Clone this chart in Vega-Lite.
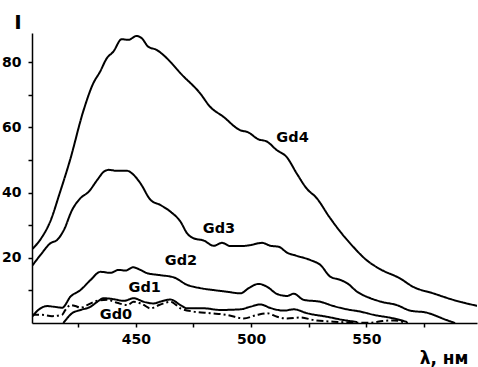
{
  "$schema": "https://vega.github.io/schema/vega-lite/v6.json",
  "width": 445,
  "height": 290,
  "autosize": "none",
  "padding": {"left": 32, "top": 33, "right": 1, "bottom": 44},
  "background": "white",
  "config": {"view": {"stroke": null}, "font": "DejaVu Sans"},
  "datasets": {
    "curves": [
      {"s":"Gd4","x":405.0,"y":22.6},{"s":"Gd4","x":409.0,"y":26.0},{"s":"Gd4","x":413.0,"y":31.3},{"s":"Gd4","x":417.0,"y":39.8},{"s":"Gd4","x":421.5,"y":50.0},{"s":"Gd4","x":427.2,"y":64.9},{"s":"Gd4","x":431.6,"y":73.6},{"s":"Gd4","x":434.5,"y":77.1},{"s":"Gd4","x":437.4,"y":81.2},{"s":"Gd4","x":440.3,"y":83.3},{"s":"Gd4","x":443.9,"y":87.1},{"s":"Gd4","x":446.8,"y":86.9},{"s":"Gd4","x":450.4,"y":88.1},{"s":"Gd4","x":452.6,"y":87.4},{"s":"Gd4","x":455.4,"y":84.8},{"s":"Gd4","x":459.1,"y":83.8},{"s":"Gd4","x":461.9,"y":82.3},{"s":"Gd4","x":465.6,"y":79.7},{"s":"Gd4","x":469.2,"y":76.8},{"s":"Gd4","x":477.9,"y":70.5},{"s":"Gd4","x":482.2,"y":66.4},{"s":"Gd4","x":488.0,"y":63.3},{"s":"Gd4","x":495.2,"y":59.2},{"s":"Gd4","x":498.8,"y":58.5},{"s":"Gd4","x":503.1,"y":56.4},{"s":"Gd4","x":506.8,"y":55.7},{"s":"Gd4","x":511.1,"y":53.1},{"s":"Gd4","x":515.5,"y":50.9},{"s":"Gd4","x":519.8,"y":45.9},{"s":"Gd4","x":524.1,"y":41.3},{"s":"Gd4","x":528.5,"y":38.3},{"s":"Gd4","x":533.9,"y":32.6},{"s":"Gd4","x":539.3,"y":27.5},{"s":"Gd4","x":544.3,"y":23.4},{"s":"Gd4","x":550.1,"y":19.3},{"s":"Gd4","x":556.6,"y":16.3},{"s":"Gd4","x":564.6,"y":13.7},{"s":"Gd4","x":570.3,"y":11.1},{"s":"Gd4","x":579.0,"y":9.1},{"s":"Gd4","x":587.7,"y":7.1},{"s":"Gd4","x":598.4,"y":5.2},
      {"s":"Gd3","x":405.0,"y":17.5},{"s":"Gd3","x":408.7,"y":20.9},{"s":"Gd3","x":413.0,"y":24.5},{"s":"Gd3","x":415.9,"y":25.5},{"s":"Gd3","x":418.8,"y":28.5},{"s":"Gd3","x":422.4,"y":34.7},{"s":"Gd3","x":426.0,"y":38.3},{"s":"Gd3","x":429.6,"y":40.3},{"s":"Gd3","x":433.3,"y":43.9},{"s":"Gd3","x":436.1,"y":46.4},{"s":"Gd3","x":438.3,"y":47.0},{"s":"Gd3","x":441.9,"y":46.7},{"s":"Gd3","x":446.3,"y":46.7},{"s":"Gd3","x":448.4,"y":45.9},{"s":"Gd3","x":452.0,"y":42.9},{"s":"Gd3","x":456.4,"y":37.8},{"s":"Gd3","x":460.7,"y":36.2},{"s":"Gd3","x":465.0,"y":34.2},{"s":"Gd3","x":469.4,"y":31.1},{"s":"Gd3","x":472.3,"y":27.5},{"s":"Gd3","x":475.1,"y":26.0},{"s":"Gd3","x":479.5,"y":25.3},{"s":"Gd3","x":483.8,"y":23.7},{"s":"Gd3","x":487.4,"y":24.6},{"s":"Gd3","x":491.0,"y":23.6},{"s":"Gd3","x":495.4,"y":23.6},{"s":"Gd3","x":499.7,"y":23.9},{"s":"Gd3","x":504.8,"y":24.6},{"s":"Gd3","x":508.4,"y":23.7},{"s":"Gd3","x":512.0,"y":23.4},{"s":"Gd3","x":515.6,"y":21.6},{"s":"Gd3","x":519.9,"y":20.6},{"s":"Gd3","x":525.8,"y":19.3},{"s":"Gd3","x":530.1,"y":17.8},{"s":"Gd3","x":534.4,"y":14.2},{"s":"Gd3","x":538.8,"y":13.2},{"s":"Gd3","x":541.7,"y":12.2},{"s":"Gd3","x":546.0,"y":9.6},{"s":"Gd3","x":551.8,"y":7.6},{"s":"Gd3","x":556.6,"y":6.5},{"s":"Gd3","x":563.2,"y":5.5},{"s":"Gd3","x":569.0,"y":3.8},{"s":"Gd3","x":576.0,"y":3.2},{"s":"Gd3","x":584.8,"y":0.9},{"s":"Gd3","x":588.5,"y":0.0},
      {"s":"Gd2","x":405.0,"y":1.9},{"s":"Gd2","x":408.7,"y":4.5},{"s":"Gd2","x":411.6,"y":5.2},{"s":"Gd2","x":414.4,"y":5.0},{"s":"Gd2","x":418.1,"y":4.7},{"s":"Gd2","x":421.7,"y":8.1},{"s":"Gd2","x":426.0,"y":10.1},{"s":"Gd2","x":430.4,"y":13.2},{"s":"Gd2","x":434.7,"y":15.7},{"s":"Gd2","x":439.0,"y":15.4},{"s":"Gd2","x":442.6,"y":16.3},{"s":"Gd2","x":445.5,"y":16.1},{"s":"Gd2","x":448.9,"y":17.1},{"s":"Gd2","x":452.0,"y":16.3},{"s":"Gd2","x":454.9,"y":15.3},{"s":"Gd2","x":460.4,"y":14.7},{"s":"Gd2","x":466.5,"y":14.0},{"s":"Gd2","x":472.3,"y":11.7},{"s":"Gd2","x":478.0,"y":10.7},{"s":"Gd2","x":483.9,"y":10.1},{"s":"Gd2","x":489.6,"y":9.6},{"s":"Gd2","x":495.4,"y":9.1},{"s":"Gd2","x":499.0,"y":10.7},{"s":"Gd2","x":503.3,"y":12.0},{"s":"Gd2","x":507.0,"y":11.1},{"s":"Gd2","x":511.3,"y":8.9},{"s":"Gd2","x":515.6,"y":8.3},{"s":"Gd2","x":518.5,"y":9.0},{"s":"Gd2","x":522.8,"y":7.1},{"s":"Gd2","x":530.1,"y":6.5},{"s":"Gd2","x":535.8,"y":5.2},{"s":"Gd2","x":541.6,"y":4.2},{"s":"Gd2","x":547.4,"y":3.5},{"s":"Gd2","x":553.2,"y":2.5},{"s":"Gd2","x":561.9,"y":1.4},{"s":"Gd2","x":567.7,"y":0.3},
      {"s":"Gd1","x":418.6,"y":0.0},{"s":"Gd1","x":422.4,"y":3.0},{"s":"Gd1","x":426.0,"y":4.0},{"s":"Gd1","x":430.4,"y":5.0},{"s":"Gd1","x":433.3,"y":6.5},{"s":"Gd1","x":436.1,"y":7.6},{"s":"Gd1","x":440.5,"y":7.3},{"s":"Gd1","x":444.8,"y":6.8},{"s":"Gd1","x":449.1,"y":7.6},{"s":"Gd1","x":453.5,"y":6.5},{"s":"Gd1","x":457.8,"y":6.0},{"s":"Gd1","x":460.4,"y":6.5},{"s":"Gd1","x":465.1,"y":7.2},{"s":"Gd1","x":469.4,"y":5.5},{"s":"Gd1","x":472.3,"y":4.5},{"s":"Gd1","x":479.5,"y":4.5},{"s":"Gd1","x":486.7,"y":4.0},{"s":"Gd1","x":495.4,"y":4.2},{"s":"Gd1","x":499.7,"y":5.0},{"s":"Gd1","x":504.1,"y":5.7},{"s":"Gd1","x":508.4,"y":4.6},{"s":"Gd1","x":514.2,"y":3.8},{"s":"Gd1","x":518.5,"y":4.2},{"s":"Gd1","x":524.3,"y":3.0},{"s":"Gd1","x":533.0,"y":1.9},{"s":"Gd1","x":540.2,"y":0.9},{"s":"Gd1","x":546.0,"y":0.3},
      {"s":"Gd0","x":405.0,"y":2.5},{"s":"Gd0","x":409.3,"y":2.5},{"s":"Gd0","x":413.7,"y":2.1},{"s":"Gd0","x":418.0,"y":2.5},{"s":"Gd0","x":419.5,"y":4.0},{"s":"Gd0","x":421.7,"y":5.5},{"s":"Gd0","x":423.8,"y":5.2},{"s":"Gd0","x":426.0,"y":4.7},{"s":"Gd0","x":428.9,"y":5.5},{"s":"Gd0","x":433.3,"y":6.8},{"s":"Gd0","x":437.6,"y":7.1},{"s":"Gd0","x":441.9,"y":6.2},{"s":"Gd0","x":446.3,"y":5.5},{"s":"Gd0","x":449.1,"y":6.5},{"s":"Gd0","x":452.8,"y":5.8},{"s":"Gd0","x":456.4,"y":4.5},{"s":"Gd0","x":460.4,"y":5.6},{"s":"Gd0","x":465.1,"y":6.5},{"s":"Gd0","x":469.4,"y":4.5},{"s":"Gd0","x":475.1,"y":3.5},{"s":"Gd0","x":482.2,"y":3.0},{"s":"Gd0","x":489.5,"y":2.5},{"s":"Gd0","x":496.8,"y":1.4},{"s":"Gd0","x":502.6,"y":2.5},{"s":"Gd0","x":507.0,"y":3.0},{"s":"Gd0","x":511.3,"y":1.9},{"s":"Gd0","x":515.6,"y":1.4},{"s":"Gd0","x":521.4,"y":1.7},{"s":"Gd0","x":527.2,"y":0.9},{"s":"Gd0","x":535.8,"y":0.4},{"s":"Gd0","x":541.6,"y":0.2},{"s":"Gd0","x":547.0,"y":0.1},{"s":"Gd0","x":552.0,"y":0.1},{"s":"Gd0","x":557.0,"y":0.6},{"s":"Gd0","x":562.0,"y":0.8},{"s":"Gd0","x":566.0,"y":0.3},{"s":"Gd0","x":568.0,"y":0.0}
    ],
    "labels": [
      {"t":"Gd4","x":518.0,"y":56.9},
      {"t":"Gd3","x":486.1,"y":28.9},
      {"t":"Gd2","x":469.6,"y":19.0},
      {"t":"Gd1","x":453.9,"y":10.6},
      {"t":"Gd0","x":441.4,"y":2.6}
    ]
  },
  "layer": [
    {
      "data": {"name": "curves"},
      "mark": {"type": "line", "stroke": "black", "strokeWidth": 2, "clip": true, "interpolate": "monotone"},
      "encoding": {
        "x": {
          "field": "x", "type": "quantitative",
          "scale": {"domain": [405, 598], "nice": false, "zero": false},
          "axis": {
            "values": [425, 450, 475, 500, 525, 550, 575],
            "labelExpr": "datum.value % 50 == 0 ? datum.label : ''",
            "grid": false, "domainColor": "black", "domainWidth": 1.5,
            "tickColor": "black", "tickWidth": 1.5, "tickSize": 4,
            "labelFontSize": 14, "labelFontWeight": "bold", "labelColor": "black",
            "labelPadding": 5, "labelFlush": false,
            "title": "λ, нм", "titleFontSize": 17, "titleFontWeight": "bold", "titleColor": "black",
            "titleAlign": "right", "titleAnchor": null, "titleX": 436, "titleY": 40, "titleBaseline": "alphabetic"
          }
        },
        "y": {
          "field": "y", "type": "quantitative",
          "scale": {"domain": [0, 89], "nice": false},
          "axis": {
            "values": [10, 20, 30, 40, 50, 60, 70, 80],
            "labelExpr": "datum.value % 20 == 0 ? datum.label : ''",
            "grid": false, "domainColor": "black", "domainWidth": 1.5,
            "tickColor": "black", "tickWidth": 1.5, "tickSize": 4,
            "labelFontSize": 14, "labelFontWeight": "bold", "labelColor": "black",
            "labelPadding": 7, "labelFlush": false,
            "title": "I", "titleAngle": 0, "titleFontSize": 20, "titleFontWeight": "bold", "titleColor": "black",
            "titleAlign": "center", "titleAnchor": null, "titleX": -14.5, "titleY": -5, "titleBaseline": "alphabetic"
          }
        },
        "detail": {"field": "s"},
        "strokeDash": {
          "field": "s", "type": "nominal", "legend": null,
          "scale": {"domain": ["Gd4", "Gd3", "Gd2", "Gd1", "Gd0"], "range": [[1, 0], [1, 0], [1, 0], [1, 0], [7, 3, 2, 3]]}
        }
      }
    },
    {
      "data": {"name": "labels"},
      "mark": {"type": "text", "font": "DejaVu Sans", "fontSize": 14.5, "fontWeight": "bold", "color": "black", "align": "center", "baseline": "middle"},
      "encoding": {
        "x": {"field": "x", "type": "quantitative"},
        "y": {"field": "y", "type": "quantitative"},
        "text": {"field": "t"}
      }
    }
  ]
}
